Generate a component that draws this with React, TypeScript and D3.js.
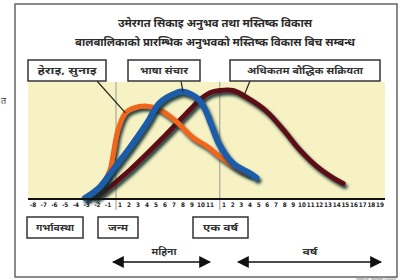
import * as d3 from 'd3';

// tick labels along the age axis
const prenatalTicks = [-8, -7, -6, -5, -4, -3, -2, -1];
const monthTicks = [1, 2, 3, 4, 5, 6, 7, 8, 9, 10, 11];
const yearTicks = [1, 2, 3, 4, 5, 6, 7, 8, 9, 10, 11, 12, 13, 14, 15, 16, 17, 18, 19];

// curves: [age in months, relative intensity 0-100]
const sensing: [number, number][] = [
  [-2.9, 0], [-1.75, 9], [-0.75, 25], [-0.4, 37], [0.5, 61], [1.6, 76], [2.4, 80],
  [4, 82], [5.4, 79], [7.3, 68], [9.1, 54], [10.7, 46], [11.7, 37], [34, 25], [48, 21],
];
const language: [number, number][] = [
  [-3.15, 0], [-1.75, 10], [-0.4, 25], [2.1, 45], [4, 67], [5.4, 85], [7.3, 94],
  [8, 95], [9.6, 89], [10.4, 80], [11.1, 65], [11.7, 47], [24.5, 31], [48, 22], [57, 18],
];
const cognition: [number, number][] = [
  [-2.2, 0], [-1.75, 3], [2.1, 25], [5.8, 54], [8.8, 79], [9.9, 88], [11, 94],
  [11.7, 96], [24.5, 96], [48, 88], [71.5, 77], [94, 61], [117, 43], [141, 28],
  [163, 18], [177, 13],
];

const titleLines = [
  'उमेरगत सिकाइ अनुभव तथा मस्तिष्क विकास',
  'बालबालिकाको प्रारम्भिक अनुभवको मस्तिष्क विकास बिच सम्बन्ध',
];
const curveLabels = ['हेराइ, सुनाइ', 'भाषा संचार', 'अधिकतम बौद्धिक सक्रियता'];
const stageLabels = ['गर्भावस्था', 'जन्म', 'एक वर्ष'];
const spanLabels = ['महिना', 'वर्ष'];
const separators = [0, 11.7];

const devFont = '"Noto Sans", "DejaVu Sans", sans-serif';

export default function App() {
  const plot = { left: 28, right: 385, top: 82, bottom: 199 };

  // piecewise age axis: prenatal months, months, years
  const x = d3.scaleLinear()
    .domain([-8, -1, 0, 1, 11, 12, 228])
    .range([33, 108, 116, 120, 210, 224, 380]);
  const y = d3.scaleLinear().domain([0, 100]).range([198, 86]);

  const line = d3.line<[number, number]>()
    .x(d => x(d[0]))
    .y(d => y(d[1]))
    .curve(d3.curveCatmullRom.alpha(0.5));

  const series = [
    { data: cognition, color: '#5b0d18', width: 5 },
    { data: sensing, color: '#f2661e', width: 5 },
    { data: language, color: '#1d5ba8', width: 6 },
  ];

  // callout boxes and where their pointers land on the curves
  const callouts = [
    { text: curveLabels[0], x0: 28, x1: 106, tw: 59, from: 97, to: [1.6, 76] },
    { text: curveLabels[1], x0: 128, x1: 200, tw: 48, from: 181, to: [8, 95] },
    { text: curveLabels[2], x0: 230, x1: 380, tw: 116, from: 250, to: [40, 92] },
  ];
  const stages = [
    { text: stageLabels[0], x0: 27, x1: 83, tw: 38 },
    { text: stageLabels[1], x0: 98, x1: 138, tw: 20 },
    { text: stageLabels[2], x0: 193, x1: 248, tw: 35 },
  ];
  const spans = [
    { text: spanLabels[0], x0: 111, x1: 212, tw: 25, lx: 164 },
    { text: spanLabels[1], x0: 236, x1: 383, tw: 15, lx: 310 },
  ];

  const tickFont = '"Liberation Sans Narrow", "DejaVu Sans Condensed", sans-serif';
  const tickY = 207;

  return (
    <svg width={400} height={280} style={{ position: 'fixed', left: 0, top: 0, background: '#fff' }}>
      <defs>
        <filter id="shadow" x="-10%" y="-10%" width="130%" height="130%">
          <feDropShadow dx={2} dy={3} stdDeviation={1.7} floodColor="#0b2e2e" floodOpacity={0.9} />
        </filter>
        <marker id="arrow" viewBox="0 0 10 10" refX={9} refY={5} markerWidth={8} markerHeight={8} orient="auto-start-reverse">
          <path d="M0,0 L10,5 L0,10 z" fill="#111" />
        </marker>
      </defs>

      {/* outer frame */}
      <rect x={15} y={4} width={382} height={273} fill="#fff" stroke="#666" strokeWidth={1.5} />
      <text x={1} y={104} fontSize={9} fontFamily={devFont} fill="#333">त</text>
      <text x={396} y={280} fontSize={4} textAnchor="end" fill="#666" fontFamily="Arial, sans-serif">Source: Nelson (2000)</text>

      {/* title */}
      {titleLines.map((t, i) => (
        <text key={i} x={215} y={27 + i * 19} textAnchor="middle" fontSize={11} fontWeight="bold"
          fontFamily={devFont} fill="#2a2a2a" textLength={i === 0 ? 194 : 280} lengthAdjust="spacingAndGlyphs">{t}</text>
      ))}

      {/* plot background */}
      <rect x={plot.left} y={plot.top} width={plot.right - plot.left} height={plot.bottom - plot.top} fill="#f6f2c4" />
      {separators.map((s, i) => (
        <line key={i} x1={x(s)} x2={x(s)} y1={plot.top} y2={plot.bottom + 11} stroke="#9a9a92" strokeWidth={1} />
      ))}

      {/* curves */}
      {series.map((s, i) => (
        <path key={i} d={line(s.data) ?? ''} fill="none" stroke={s.color} strokeWidth={s.width}
          strokeLinecap="round" strokeLinejoin="round" filter="url(#shadow)" />
      ))}

      {/* axis */}
      <line x1={plot.left} x2={plot.right} y1={plot.bottom} y2={plot.bottom} stroke="#111" strokeWidth={2.2} />
      <g fontFamily={tickFont} fontSize={6.3} fontWeight="bold" fill="#222" textAnchor="middle">
        {prenatalTicks.map(t => <text key={'p' + t} x={x(t)} y={tickY}>{t}</text>)}
        {monthTicks.map(t => <text key={'m' + t} x={x(t)} y={tickY}>{t}</text>)}
        {yearTicks.map(t => <text key={'y' + t} x={x(t * 12)} y={tickY}>{t}</text>)}
      </g>

      {/* callouts */}
      {callouts.map((c, i) => (
        <g key={i}>
          <line x1={c.from} y1={81} x2={x(c.to[0])} y2={y(c.to[1])} stroke="#222" strokeWidth={1.2} />
          <rect x={c.x0} y={60} width={c.x1 - c.x0} height={21} fill="#fff" stroke="#333" strokeWidth={1.5} />
          <text x={(c.x0 + c.x1) / 2} y={74} textAnchor="middle" fontSize={9} fontWeight="bold" fontFamily={devFont}
            fill="#333" textLength={c.tw} lengthAdjust="spacingAndGlyphs">{c.text}</text>
        </g>
      ))}

      {/* stage boxes */}
      {stages.map((s, i) => (
        <g key={i}>
          <rect x={s.x0} y={217} width={s.x1 - s.x0} height={21} fill="#fff" stroke="#333" strokeWidth={1.5} />
          <text x={(s.x0 + s.x1) / 2} y={231} textAnchor="middle" fontSize={9} fontWeight="bold" fontFamily={devFont}
            fill="#333" textLength={s.tw} lengthAdjust="spacingAndGlyphs">{s.text}</text>
        </g>
      ))}

      {/* month / year spans */}
      {spans.map((s, i) => (
        <g key={i}>
          <line x1={s.x0 + 2} x2={s.x1 - 2} y1={262} y2={262} stroke="#111" strokeWidth={1.5}
            markerStart="url(#arrow)" markerEnd="url(#arrow)" />
          <text x={s.lx} y={255} textAnchor="middle" fontSize={9} fontWeight="bold"
            fontFamily={devFont} fill="#333" textLength={s.tw} lengthAdjust="spacingAndGlyphs">{s.text}</text>
        </g>
      ))}
    </svg>
  );
}
